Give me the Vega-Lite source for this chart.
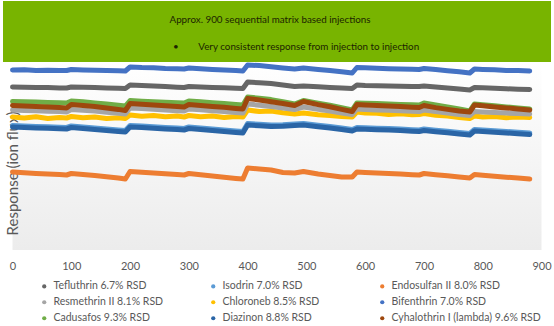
{
  "$schema": "https://vega.github.io/schema/vega-lite/v6.json",
  "padding": {"left": 3, "top": 1, "right": 0, "bottom": 0},
  "background": "white",
  "config": {"font": "Lato", "concat": {"spacing": 0}},
  "center": true,
  "bounds": "flush",
  "spacing": 0,
  "datasets": {
    "banner": [
      {"line": "1", "text": "Approx. 900 sequential matrix based injections"},
      {"line": "2", "text": "•\u00a0\u00a0\u00a0\u00a0\u00a0\u00a0\u00a0\u00a0Very consistent response from injection to injection"}
    ],
    "names": [
      {"k": "Tef", "name": "Tefluthrin 6.7% RSD"},
      {"k": "Iso", "name": "Isodrin 7.0% RSD"},
      {"k": "End", "name": "Endosulfan II 8.0% RSD"},
      {"k": "Res", "name": "Resmethrin II 8.1% RSD"},
      {"k": "Chl", "name": "Chloroneb 8.5% RSD"},
      {"k": "Bif", "name": "Bifenthrin 7.0% RSD"},
      {"k": "Cad", "name": "Cadusafos 9.3% RSD"},
      {"k": "Dia", "name": "Diazinon 8.8% RSD"},
      {"k": "Cyh", "name": "Cyhalothrin I (lambda) 9.6% RSD"}
    ],
    "series": [
      {"x": 0, "Bif": 180, "Tef": 163, "Cad": 148.5, "Cyh": 144.5, "Res": 140, "Chl": 133, "Dia": 123, "Iso": 124.5, "End": 78},
      {"x": 20, "Bif": 180.2, "Tef": 162.7, "Cad": 148.2, "Cyh": 144, "Res": 139.6, "Chl": 132, "Dia": 122.6, "Iso": 124.1, "End": 77.3},
      {"x": 40, "Bif": 179.6, "Tef": 162.6, "Cad": 147.9, "Cyh": 143.4, "Res": 139.2, "Chl": 133.2, "Dia": 122.1, "Iso": 123.6, "End": 76.6},
      {"x": 60, "Bif": 179.8, "Tef": 162.4, "Cad": 147.6, "Cyh": 143, "Res": 138.8, "Chl": 131.5, "Dia": 121.7, "Iso": 123.2, "End": 76},
      {"x": 80, "Bif": 179.4, "Tef": 162.1, "Cad": 147.2, "Cyh": 142.4, "Res": 138.4, "Chl": 132.6, "Dia": 121.3, "Iso": 122.8, "End": 75.5},
      {"x": 92, "Bif": 179.5, "Tef": 162, "Cad": 147, "Cyh": 142, "Res": 138, "Chl": 132, "Dia": 121, "Iso": 122.5, "End": 75},
      {"x": 100, "Bif": 180.5, "Tef": 163, "Cad": 149, "Cyh": 145.5, "Res": 140.5, "Chl": 133.5, "Dia": 122.5, "Iso": 124, "End": 76.5},
      {"x": 120, "Bif": 180.1, "Tef": 162.7, "Cad": 148.2, "Cyh": 144.6, "Res": 139.8, "Chl": 132.2, "Dia": 121.5, "Iso": 123, "End": 75.6},
      {"x": 140, "Bif": 179.7, "Tef": 162.5, "Cad": 147, "Cyh": 143.4, "Res": 138.9, "Chl": 133.1, "Dia": 120.6, "Iso": 122.1, "End": 74.4},
      {"x": 160, "Bif": 179.5, "Tef": 162.1, "Cad": 146, "Cyh": 142, "Res": 137.8, "Chl": 131.6, "Dia": 119.6, "Iso": 121.1, "End": 73.2},
      {"x": 180, "Bif": 179.2, "Tef": 161.8, "Cad": 144.8, "Cyh": 140.6, "Res": 136.7, "Chl": 132.3, "Dia": 118.6, "Iso": 120.1, "End": 72},
      {"x": 192, "Bif": 179, "Tef": 161.5, "Cad": 144, "Cyh": 139.5, "Res": 136, "Chl": 131.5, "Dia": 118, "Iso": 119.5, "End": 71},
      {"x": 200, "Bif": 183, "Tef": 165, "Cad": 149.5, "Cyh": 146.5, "Res": 142, "Chl": 135, "Dia": 123, "Iso": 124.5, "End": 78.5},
      {"x": 220, "Bif": 182.4, "Tef": 164.5, "Cad": 148.8, "Cyh": 145.8, "Res": 141.4, "Chl": 133.8, "Dia": 122.4, "Iso": 123.9, "End": 77.7},
      {"x": 240, "Bif": 182.2, "Tef": 164, "Cad": 148.3, "Cyh": 145, "Res": 140.7, "Chl": 134.6, "Dia": 121.8, "Iso": 123.3, "End": 77},
      {"x": 260, "Bif": 181.6, "Tef": 163.4, "Cad": 147.8, "Cyh": 144.2, "Res": 140, "Chl": 133.2, "Dia": 121.1, "Iso": 122.6, "End": 76.2},
      {"x": 280, "Bif": 181.3, "Tef": 162.8, "Cad": 147.3, "Cyh": 143.4, "Res": 139.3, "Chl": 134, "Dia": 120.4, "Iso": 121.9, "End": 75.5},
      {"x": 292, "Bif": 181, "Tef": 162.5, "Cad": 147, "Cyh": 143, "Res": 139, "Chl": 133, "Dia": 120, "Iso": 121.5, "End": 75},
      {"x": 300, "Bif": 182, "Tef": 163.5, "Cad": 149, "Cyh": 145.5, "Res": 141, "Chl": 134.5, "Dia": 121.5, "Iso": 123, "End": 76.5},
      {"x": 320, "Bif": 181.3, "Tef": 163, "Cad": 148.2, "Cyh": 144.6, "Res": 140.2, "Chl": 133.2, "Dia": 120.5, "Iso": 122, "End": 75.2},
      {"x": 340, "Bif": 180.6, "Tef": 162.6, "Cad": 147.3, "Cyh": 143.6, "Res": 139.3, "Chl": 134, "Dia": 119.6, "Iso": 121.1, "End": 74},
      {"x": 360, "Bif": 180, "Tef": 162.2, "Cad": 146.6, "Cyh": 142.7, "Res": 138.5, "Chl": 132.6, "Dia": 118.6, "Iso": 120.1, "End": 72.8},
      {"x": 380, "Bif": 179.5, "Tef": 161.8, "Cad": 145.6, "Cyh": 141.6, "Res": 137.6, "Chl": 133.5, "Dia": 117.6, "Iso": 119.1, "End": 71.6},
      {"x": 392, "Bif": 179, "Tef": 161.5, "Cad": 145, "Cyh": 141, "Res": 137, "Chl": 133, "Dia": 117, "Iso": 118.5, "End": 71},
      {"x": 400, "Bif": 185, "Tef": 168, "Cad": 153, "Cyh": 151.5, "Res": 146, "Chl": 140, "Dia": 125, "Iso": 126.5, "End": 82},
      {"x": 420, "Bif": 184.4, "Tef": 167.3, "Cad": 151.8, "Cyh": 150, "Res": 144.8, "Chl": 138.4, "Dia": 124.2, "Iso": 125.7, "End": 81},
      {"x": 440, "Bif": 183.2, "Tef": 166.4, "Cad": 150.4, "Cyh": 148.3, "Res": 143.5, "Chl": 138.9, "Dia": 123.4, "Iso": 124.9, "End": 80},
      {"x": 460, "Bif": 182, "Tef": 165, "Cad": 148.4, "Cyh": 146.5, "Res": 142, "Chl": 137.2, "Dia": 123.7, "Iso": 125.2, "End": 77.5},
      {"x": 480, "Bif": 181, "Tef": 163.5, "Cad": 146, "Cyh": 144.5, "Res": 140.5, "Chl": 136, "Dia": 124.4, "Iso": 125.9, "End": 77},
      {"x": 495, "Bif": 182, "Tef": 164, "Cad": 149.5, "Cyh": 148.5, "Res": 143, "Chl": 137, "Dia": 125, "Iso": 126.5, "End": 78.5},
      {"x": 520, "Bif": 180.6, "Tef": 163.2, "Cad": 146.8, "Cyh": 145.4, "Res": 140.7, "Chl": 135.3, "Dia": 123.2, "Iso": 124.7, "End": 76},
      {"x": 540, "Bif": 179.4, "Tef": 162.6, "Cad": 144.8, "Cyh": 143.2, "Res": 139, "Chl": 134.6, "Dia": 122, "Iso": 123.5, "End": 74.5},
      {"x": 560, "Bif": 178.3, "Tef": 162, "Cad": 142.4, "Cyh": 140.6, "Res": 137, "Chl": 133.6, "Dia": 120.4, "Iso": 121.9, "End": 73},
      {"x": 578, "Bif": 177, "Tef": 161.5, "Cad": 140, "Cyh": 138.5, "Res": 135.5, "Chl": 133, "Dia": 119, "Iso": 120.5, "End": 73},
      {"x": 586, "Bif": 182.5, "Tef": 165, "Cad": 147, "Cyh": 145.5, "Res": 141, "Chl": 138, "Dia": 121, "Iso": 122.5, "End": 78},
      {"x": 600, "Bif": 182.2, "Tef": 164.6, "Cad": 146.7, "Cyh": 145, "Res": 140.6, "Chl": 137, "Dia": 120.7, "Iso": 122.2, "End": 77.6},
      {"x": 620, "Bif": 181.8, "Tef": 164.3, "Cad": 146.4, "Cyh": 144.4, "Res": 140.1, "Chl": 136.8, "Dia": 120.3, "Iso": 121.8, "End": 77},
      {"x": 640, "Bif": 181.3, "Tef": 164.1, "Cad": 146, "Cyh": 143.9, "Res": 139.7, "Chl": 135.5, "Dia": 119.9, "Iso": 121.4, "End": 76.4},
      {"x": 660, "Bif": 181, "Tef": 163.8, "Cad": 145.6, "Cyh": 143.4, "Res": 139.3, "Chl": 136.2, "Dia": 119.4, "Iso": 120.9, "End": 75.9},
      {"x": 680, "Bif": 180.7, "Tef": 163.6, "Cad": 145.3, "Cyh": 142.8, "Res": 138.8, "Chl": 135.2, "Dia": 118.8, "Iso": 120.3, "End": 75.3},
      {"x": 692, "Bif": 180.5, "Tef": 163.5, "Cad": 145, "Cyh": 142.5, "Res": 138.5, "Chl": 135.5, "Dia": 118.5, "Iso": 120, "End": 75},
      {"x": 700, "Bif": 181.5, "Tef": 164, "Cad": 147, "Cyh": 144.5, "Res": 140, "Chl": 136.5, "Dia": 119.5, "Iso": 121, "End": 76.5},
      {"x": 720, "Bif": 180.4, "Tef": 163, "Cad": 145, "Cyh": 142.4, "Res": 138.5, "Chl": 134.8, "Dia": 118.3, "Iso": 119.8, "End": 75.3},
      {"x": 740, "Bif": 179.3, "Tef": 162, "Cad": 143, "Cyh": 140.6, "Res": 137, "Chl": 133.9, "Dia": 117.3, "Iso": 118.8, "End": 74.2},
      {"x": 760, "Bif": 178.2, "Tef": 161, "Cad": 141, "Cyh": 139, "Res": 135.5, "Chl": 132.5, "Dia": 116, "Iso": 117.5, "End": 73},
      {"x": 778, "Bif": 177, "Tef": 160, "Cad": 139, "Cyh": 138, "Res": 134.5, "Chl": 131.5, "Dia": 115, "Iso": 116.5, "End": 72},
      {"x": 786, "Bif": 181, "Tef": 162.5, "Cad": 146, "Cyh": 145, "Res": 138.5, "Chl": 134, "Dia": 119, "Iso": 120.5, "End": 75.5},
      {"x": 800, "Bif": 180.6, "Tef": 162.2, "Cad": 145.3, "Cyh": 144.2, "Res": 138, "Chl": 133, "Dia": 118.5, "Iso": 120, "End": 74.8},
      {"x": 820, "Bif": 180.2, "Tef": 161.7, "Cad": 144.2, "Cyh": 143.1, "Res": 137.4, "Chl": 133.6, "Dia": 117.7, "Iso": 119.2, "End": 73.8},
      {"x": 840, "Bif": 179.6, "Tef": 161.2, "Cad": 143.1, "Cyh": 142.1, "Res": 136.9, "Chl": 132.3, "Dia": 117, "Iso": 118.5, "End": 72.8},
      {"x": 860, "Bif": 179.4, "Tef": 160.8, "Cad": 142, "Cyh": 141, "Res": 136.4, "Chl": 132.9, "Dia": 116.3, "Iso": 117.8, "End": 71.9},
      {"x": 880, "Bif": 179, "Tef": 160.5, "Cad": 141, "Cyh": 140, "Res": 136, "Chl": 132.5, "Dia": 115.5, "Iso": 117, "End": 71}
    ]
  },
  "vconcat": [
    {
      "width": 548,
      "height": 61,
      "view": {"fill": "#78b400", "stroke": null},
      "data": {"name": "banner"},
      "encoding": {
        "y": {"field": "line", "type": "ordinal", "scale": {"type": "point", "padding": 0.6}, "axis": null},
        "text": {"field": "text"}
      },
      "layer": [
        {
          "transform": [{"filter": "datum.line == '1'"}],
          "mark": {"type": "text", "font": "Lato", "fontSize": 9.8, "color": "#1c2400", "dy": 2, "dx": -7}
        },
        {
          "transform": [{"filter": "datum.line == '2'"}],
          "mark": {"type": "text", "font": "Lato", "fontSize": 9.8, "color": "#1c2400", "dy": 2, "dx": 19}
        }
      ]
    },
    {
      "width": 529,
      "height": 188,
      "view": {
        "fill": {"gradient": "linear", "x1": 0, "y1": 0, "x2": 0, "y2": 1, "stops": [{"offset": 0, "color": "#ffffff"}, {"offset": 1, "color": "#ececec"}]},
        "stroke": null
      },
      "data": {"name": "series"},
      "transform": [
        {"fold": ["Iso", "Dia", "End", "Chl", "Res", "Cad", "Cyh", "Tef", "Bif"], "as": ["k", "v"]},
        {"lookup": "k", "from": {"data": {"name": "names"}, "key": "k", "fields": ["name"]}}
      ],
      "mark": {"type": "line", "strokeWidth": 5, "strokeCap": "round", "strokeJoin": "round"},
      "encoding": {
        "x": {
          "field": "x", "type": "quantitative",
          "scale": {"domain": [0, 900], "nice": false},
          "axis": {"title": null, "values": [0, 100, 200, 300, 400, 500, 600, 700, 800, 900], "format": "d", "labelFont": "Lato", "labelFontSize": 11, "labelColor": "#595959", "ticks": false, "domain": false, "grid": false, "labelPadding": 10, "labelFlush": false}
        },
        "y": {
          "field": "v", "type": "quantitative",
          "scale": {"domain": [0, 188], "nice": false, "zero": false},
          "axis": {"title": "Response (ion flux)", "labels": false, "ticks": false, "domain": false, "grid": false, "titleX": 4.5, "titleY": 111, "titleAngle": -90, "titleAlign": "center", "titleBaseline": "alphabetic", "titleFont": "Lato", "titleFontSize": 15, "titleFontWeight": "normal", "titleColor": "#595959"}
        },
        "color": {
          "field": "name", "type": "nominal",
          "scale": {
            "domain": ["Tefluthrin 6.7% RSD", "Isodrin 7.0% RSD", "Endosulfan II 8.0% RSD", "Resmethrin II 8.1% RSD", "Chloroneb 8.5% RSD", "Bifenthrin 7.0% RSD", "Cadusafos 9.3% RSD", "Diazinon 8.8% RSD", "Cyhalothrin I (lambda) 9.6% RSD"],
            "range": ["#666666", "#5B9BD5", "#ED7D31", "#A5A5A5", "#FFC000", "#4472C4", "#70AD47", "#2A65A6", "#9E480E"]
          },
          "legend": {
            "title": null, "orient": "none", "legendX": 36, "legendY": 280, "columns": 3, "direction": "horizontal",
            "gridAlign": "all", "columnPadding": 5, "rowPadding": 5, "symbolType": "circle", "symbolSize": 18,
            "labelFont": "Lato", "labelFontSize": 10.5, "labelColor": "#595959", "labelOffset": 4, "padding": 0, "labelLimit": 300,
            "encode": {"symbols": {"update": {"fill": {"scale": "color", "field": "value"}, "strokeWidth": {"value": 0}}}}
          }
        }
      }
    }
  ]
}
